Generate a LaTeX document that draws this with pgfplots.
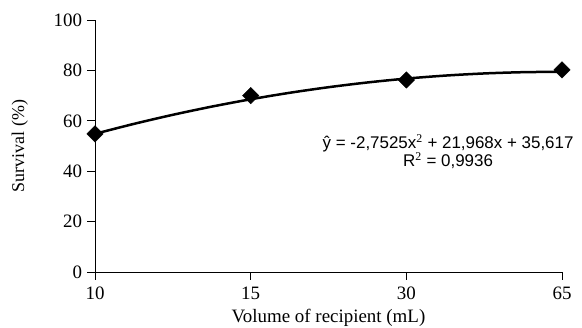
\documentclass[border=0pt]{standalone}
\usepackage{pgfplots}
\pgfplotsset{compat=1.18}
\usepackage{fontspec}
\setmainfont{Liberation Serif}
\newfontfamily\arialfont{Liberation Sans}
\begin{document}
\begin{tikzpicture}[x=1bp,y=1bp]
\useasboundingbox (0,0) rectangle (582,327);
\begin{axis}[
  at={(95bp,55bp)}, anchor=south west,
  width=467bp, height=252bp, scale only axis,
  xmin=1, xmax=4, ymin=0, ymax=100,
  xtick={1,2,3,4}, xticklabels={10,15,30,65},
  ytick={0,20,40,60,80,100},
  axis x line*=bottom, axis y line*=left,
  axis line style={line width=0.8bp},
  tick style={black, line width=0.8bp},
  tick align=outside,
  major tick length=7.5bp,
  /pgf/number format/assume math mode=true,
  ticklabel style={font=\fontsize{19}{21}\selectfont},
  xticklabel style={yshift=-4bp},
  yticklabel style={xshift=-2bp},
  xlabel={Volume of recipient (mL)},
  ylabel={Survival (\%)},
  xlabel style={font=\fontsize{19}{21}\selectfont, at={(axis description cs:0.5,0)}, anchor=base, yshift=-50.5bp},
  ylabel style={font=\fontsize{18}{20}\selectfont, at={(axis description cs:-0.161,0.5)}, anchor=center},
  clip=false,
]
\addplot[black, line width=2.5bp, smooth] coordinates {
 (1,54.83) (1.25,58.78) (1.5,62.38) (1.75,65.63) (2,68.54) (2.25,71.11)
 (2.5,73.33) (2.75,75.21) (3,76.75) (3.25,77.94) (3.5,78.79) (3.75,79.29) (4,79.45)
};
\addplot[only marks, mark=square*, mark size=5.8bp, mark options={rotate=45, fill=black, draw=black}] coordinates {
 (1,54.8) (2,70) (3,76.2) (4,80.2)
};
\node[font=\arialfont\fontsize{17}{19}\selectfont, align=center, anchor=north east, inner sep=0pt] at (axis cs:4.075,54.5)
 {\^y = -2,7525x$^{\mathrm{2}}$ + 21,968x + 35,617\\[-1bp] R$^{\mathrm{2}}$ = 0,9936};
\end{axis}
\end{tikzpicture}
\end{document}
